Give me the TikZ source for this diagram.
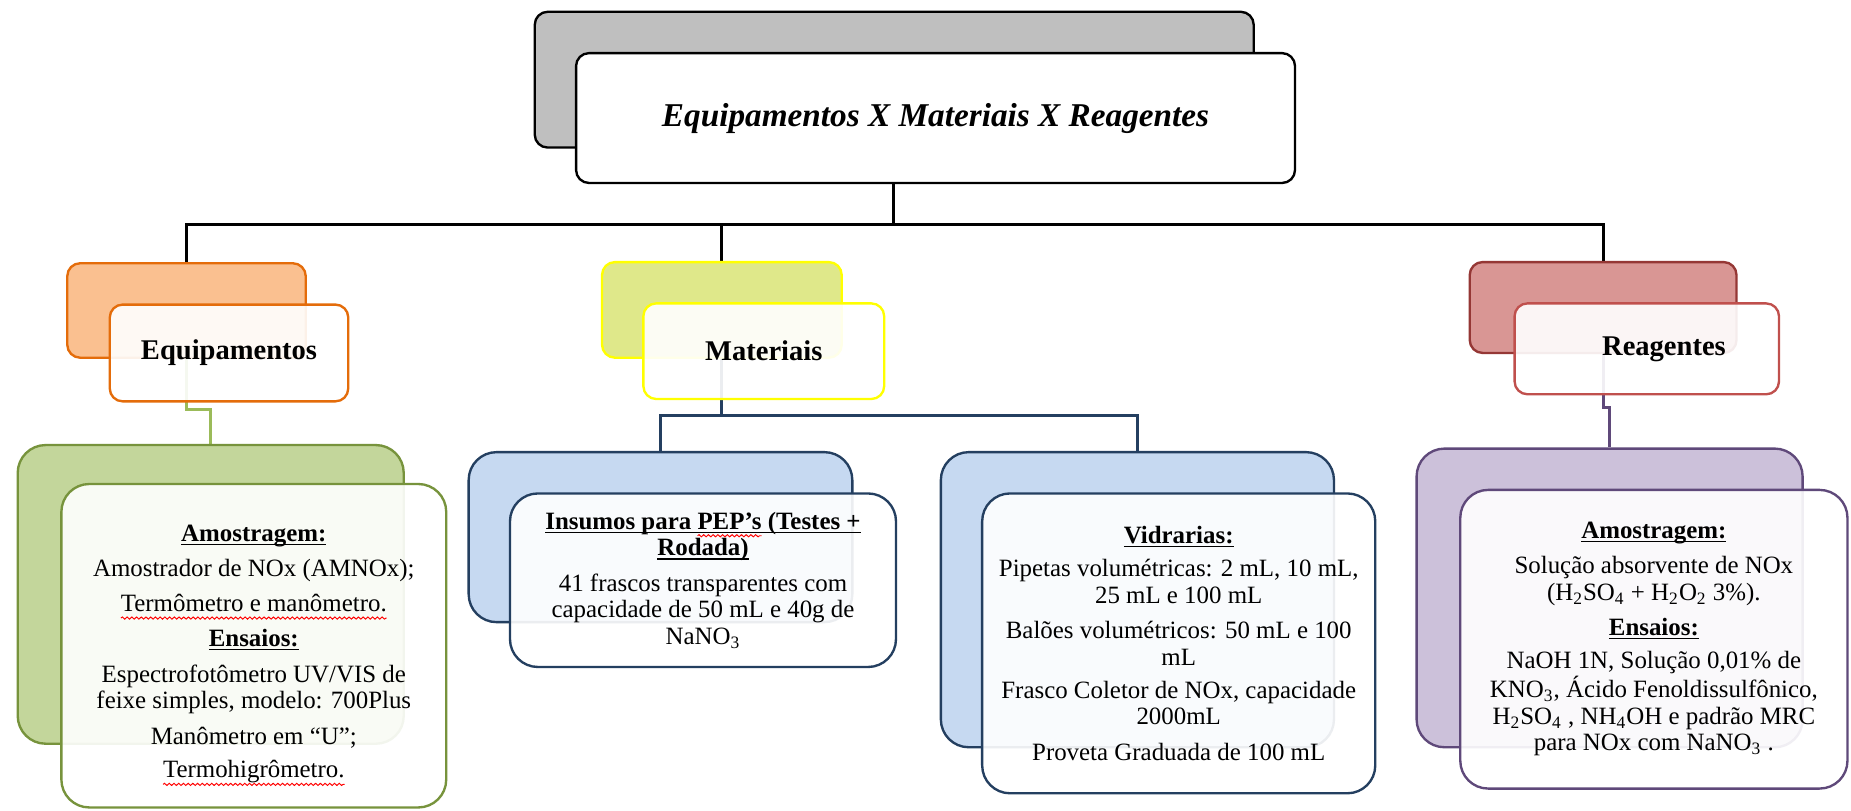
\documentclass[tikz,border=0pt]{standalone}
\usepackage{fontspec}
\setmainfont{Liberation Serif}
\usetikzlibrary{decorations.pathmorphing}
\definecolor{gryF}{HTML}{BFBFBF}
\definecolor{orgB}{HTML}{E46C0A}
\definecolor{orgF}{HTML}{FAC090}
\definecolor{matB}{HTML}{FFFF00}
\definecolor{matF}{HTML}{DFE88A}
\definecolor{redB}{HTML}{953735}
\definecolor{redB2}{HTML}{C0504D}
\definecolor{redF}{HTML}{D99694}
\definecolor{grnB}{HTML}{77933C}
\definecolor{grnF}{HTML}{C3D69B}
\definecolor{grnL}{HTML}{9BBB59}
\definecolor{bluB}{HTML}{243F60}
\definecolor{bluF}{HTML}{C6D9F1}
\definecolor{purB}{HTML}{5F497A}
\definecolor{purF}{HTML}{CCC1DA}
\pgfdeclarelayer{bgfill}
\pgfdeclarelayer{lines}
\pgfsetlayers{bgfill,lines,main}
\newcommand\mybox[7]{\node[#6, minimum width={(#4-#2)*0.55pt}, minimum height={(#5-#3)*0.55pt}] (#1) at ({(#2+#4)/2},{(#3+#5)/2}) {#7};}
\newcommand\squig[1]{\tikz[baseline=(sq.base)]{\node[inner sep=0pt,outer sep=0pt,minimum width=0pt,minimum height=0pt,draw=none,fill=none,rounded corners=0pt,text opacity=1](sq){#1};\draw[overlay,red,line width=0.45pt,fill=none,rounded corners=0pt,decorate,decoration={snake,amplitude=0.5pt,segment length=2.2pt}]([yshift=-3pt]sq.base west)--([yshift=-3pt]sq.base east);}}
\newsavebox\ulbox
\newcommand\myul[1]{\sbox\ulbox{#1}\rlap{\rule[-1.7pt]{\wd\ulbox}{0.55pt}}\usebox\ulbox}
\begin{document}
\begin{tikzpicture}[x=0.55pt,y=-0.55pt,
  bk/.style 2 args={draw=#1,fill=#2,line width=1.1pt,rounded corners=6pt},
  fr/.style={draw=#1,fill=white,fill opacity=0.91,text opacity=1,line width=1.1pt,rounded corners=6pt},
  big/.style={rounded corners=13pt},
  conn/.style={draw=#1,line width=1.3pt},
  lab/.style={font=\fontsize{13.3}{15}\selectfont\bfseries},
  det/.style={align=center,font=\fontsize{11.6}{12.4}\selectfont}]
\begin{pgfonlayer}{bgfill}
\fill[white] (0,0) rectangle (1568,687);
\end{pgfonlayer}
\useasboundingbox (0,0) rectangle (1568,687);
% title
\mybox{tb}{453}{10}{1062}{125}{bk={black}{gryF}}{}
\mybox{tf}{488}{45}{1097}{155}{fr=black,fill opacity=1,font=\fontsize{15.5}{18}\selectfont\bfseries\itshape}{Equipamentos X Materiais X Reagentes}
% category boxes
\mybox{eb}{57}{223}{259}{303}{bk={orgB}{orgF}}{}
\mybox{ef}{93}{258}{295}{340}{fr=orgB,lab}{Equipamentos}
\mybox{mb}{510}{222}{713}{303}{bk={matB}{matF}}{}
\mybox{mf}{545}{257}{749}{338}{fr=matB,lab}{Materiais}
\mybox{rb}{1245}{222}{1471}{299}{bk={redB}{redF}}{}
\mybox{rf}{1283}{257}{1507}{334}{fr=redB2,lab}{\hspace*{16pt}Reagentes}
% detail boxes
\mybox{gb}{15}{377}{342}{630}{bk={grnB}{grnF},big}{}
\mybox{gf}{52}{410}{378}{684}{fr=grnB,big,det}{\rule{0pt}{6pt}\\[-3pt]
\myul{\textbf{Amostragem:}}\\[4pt]
Amostrador de NOx (AMNOx);\\[4pt]
\squig{Termômetro e manômetro.}\\[4pt]
\myul{\textbf{Ensaios:}}\\[4pt]
Espectrofotômetro UV/VIS de\\
feixe simples, modelo: 700Plus\\[4.5pt]
Manômetro em “U”;\\[3pt]
\squig{Termohigrômetro.}}
\mybox{ab}{397}{383}{722}{527}{bk={bluB}{bluF},big}{}
\mybox{af}{432}{418}{759}{565}{fr=bluB,big,det}{\textbf{\myul{Insumos para \squig{PEP’s} (Testes +}}\\
\textbf{\myul{Rodada)}}\\[4pt]
41 frascos transparentes com\\
capacidade de 50 mL e 40g de\\
NaNO\textsubscript{3}}
\mybox{vb}{797}{383}{1130}{633}{bk={bluB}{bluF},big}{}
\mybox{vf}{832}{418}{1165}{672}{fr=bluB,big,det}{\myul{\textbf{Vidrarias:}}\\[3pt]
Pipetas volumétricas: 2 mL, 10 mL,\\
25 mL e 100 mL\\[4pt]
Balões volumétricos: 50 mL e 100\\
mL\\[3pt]
Frasco Coletor de NOx, capacidade\\
2000mL\\[4pt]
Proveta Graduada de 100 mL}
\mybox{pb}{1200}{380}{1527}{633}{bk={purB}{purF},big}{}
\mybox{pf}{1237}{415}{1565}{668}{fr=purB,big,det}{\myul{\textbf{Amostragem:}}\\[4pt]
Solução absorvente de NOx\\
(H\textsubscript{2}SO\textsubscript{4} + H\textsubscript{2}O\textsubscript{2} 3\%).\\[4pt]
\myul{\textbf{Ensaios:}}\\[3pt]
NaOH 1N, Solução 0,01\% de\\
KNO\textsubscript{3}, Ácido Fenoldissulfônico,\\
H\textsubscript{2}SO\textsubscript{4} , NH\textsubscript{4}OH e padrão MRC\\
para NOx com NaNO\textsubscript{3} .}
% connectors
\coordinate (j0) at (757,190);
\coordinate (g1) at (158,347);
\coordinate (m1) at (611.5,352);
\coordinate (r1) at (1358,345);
\begin{pgfonlayer}{lines}
\draw[conn=black] (j0 |- tf.south) -- (j0);
\draw[conn=black] (eb.north) |- (j0) -| (rb.north);
\draw[conn=black] (mb.north) -- (mb.north |- j0);
\draw[conn=grnL] (eb.south) -- (g1) -| (gb.north);
\draw[conn=bluB] (mb.south) -- (m1);
\draw[conn=bluB] (ab.north) |- (m1) -| (vb.north);
\draw[conn=purB] (rb.south) -- (r1) -| (pb.north);
\end{pgfonlayer}
\end{tikzpicture}
\end{document}
